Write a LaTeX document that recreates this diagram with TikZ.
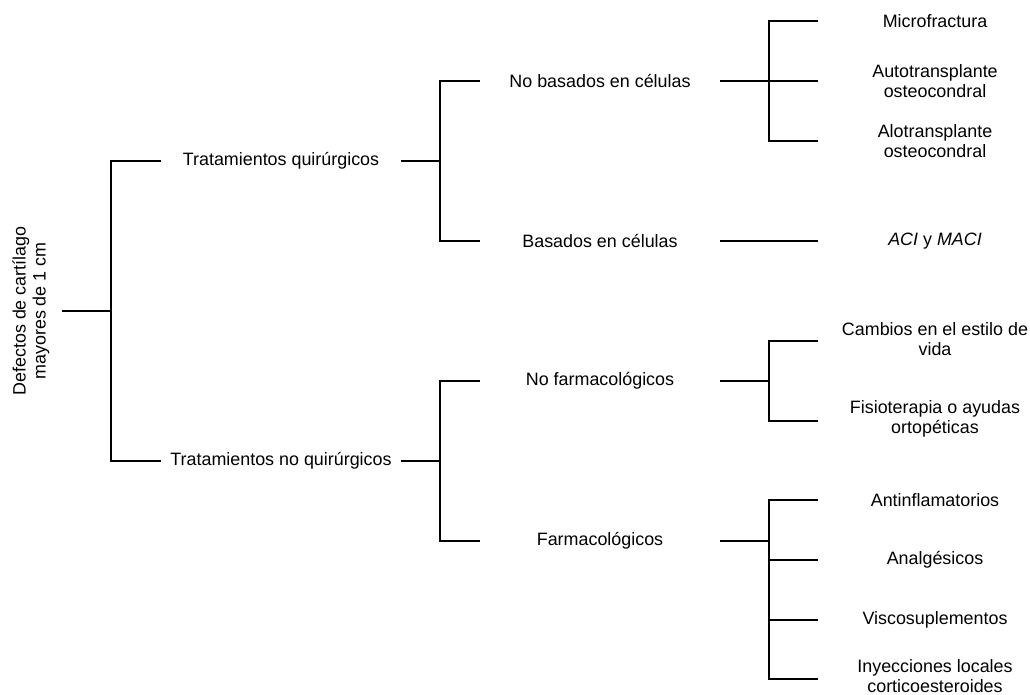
\documentclass[tikz,border=0pt]{standalone}
\usepackage{fontspec}
\setmainfont{Liberation Sans}
\usetikzlibrary{positioning, calc}

\begin{document}
\begin{tikzpicture}[
    x=1pt, y=-1pt,
    font=\fontsize{17.9}{20}\selectfont,
    % Node styles
    rootlabel/.style={rotate=90, align=center, inner sep=0pt, minimum height=62pt},
    level1/.style={inner sep=0pt, minimum width=240pt, text centered},
    level2/.style={inner sep=0pt, minimum width=240pt, text centered},
    leaf/.style={inner sep=0pt, minimum width=234pt, align=center},
    % Line style
    branch/.style={line width=1.8pt, color=black},
]
\useasboundingbox (0,0) rectangle (1030,695);

% Root
\node (root) [rootlabel] at (31,311) {Defectos de cartílago\\mayores de 1 cm};

% First level
\node (quir) [level1] at (281,161) {Tratamientos quirúrgicos};
\node (noquir) [level1] at (281,461) {Tratamientos no quirúrgicos};

% Second level
\node (nobas) [level2] at (600,81) {No basados en células};
\node (bas) [level2] at (600,241) {Basados en células};
\node (nofarm) [level2] at (600,381) {No farmacológicos};
\node (farm) [level2] at (600,541) {Farmacológicos};

% Leaves
\node (micro) [leaf] at (935,21) {Microfractura};
\node (autot) [leaf] at (935,81) {Autotransplante\\osteocondral};
\node (alot) [leaf] at (935,141) {Alotransplante\\osteocondral};
\node (aci) [leaf] at (935,241) {\textit{ACI} y \textit{MACI}};
\node (cambios) [leaf] at (935,339) {Cambios en el estilo de\\vida};
\node (fisio) [leaf] at (935,419) {Fisioterapia o ayudas\\ortopéticas};
\node (antinf) [leaf] at (935,500) {Antinflamatorios};
\node (analg) [leaf] at (935,560) {Analgésicos};
\node (visco) [leaf] at (935,620) {Viscosuplementos};
\node (inyec) [leaf] at (935,676) {Inyecciones locales\\corticoesteroides};

% Fork points
\coordinate (f0) at (111,311);
\coordinate (f1) at (440,161);
\coordinate (f2) at (440,461);
\coordinate (f3) at (769,81);
\coordinate (f4) at (769,381);
\coordinate (f5) at (769,541);

% Root branches
\draw [branch] (root.south) -- (f0);
\draw [branch] (quir.west) -| (f0) |- (noquir.west);

% Surgical branches
\draw [branch] (quir.east) -- (f1);
\draw [branch] (nobas.west) -| (f1) |- (bas.west);
\draw [branch] (nobas.east) -- (f3);
\draw [branch] (micro.west) -| (f3) |- (alot.west);
\draw [branch] (f3) -- (autot.west);
\draw [branch] (bas.east) -- (aci.west);

% Non-surgical branches
\draw [branch] (noquir.east) -- (f2);
\draw [branch] (nofarm.west) -| (f2) |- (farm.west);
\draw [branch] (nofarm.east) -- (f4);
\draw [branch] (cambios.west |- 0,341) -| (f4) |- (fisio.west |- 0,421);
\draw [branch] (farm.east) -- (f5);
\draw [branch] (antinf.west) -| (f5) |- (inyec.west |- 0,679);
\foreach \n in {analg, visco}
    \draw [branch] (\n.west) -- (\n.west -| f5);

\end{tikzpicture}
\end{document}
